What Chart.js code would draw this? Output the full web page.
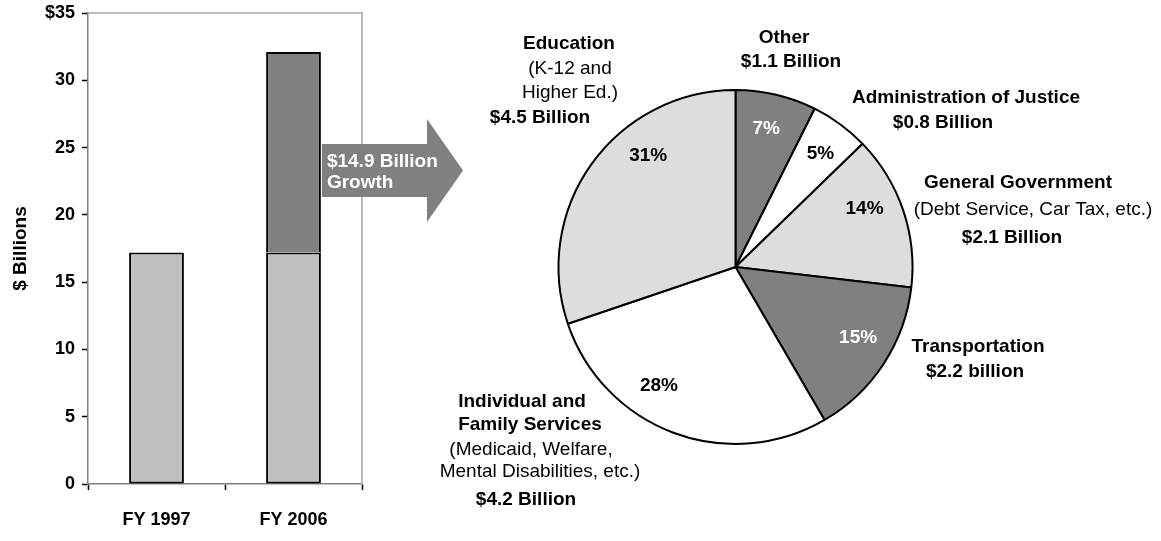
<!DOCTYPE html>
<html>
<head>
<meta charset="utf-8">
<script src="https://cdn.jsdelivr.net/npm/chart.js@4.4.1/dist/chart.umd.min.js"></script>
<style>
  html, body { margin: 0; padding: 0; background: #fff; }
  #wrap { position: relative; width: 1161px; height: 541px; overflow: hidden; }
  canvas { position: absolute; top: 0; }
  #pie { left: 400px; }
  #bar { left: 0; }
</style>
</head>
<body>
<div id="wrap">
  <canvas id="pie" width="761" height="541"></canvas>
  <canvas id="bar" width="480" height="541"></canvas>
</div>
<script>
// bar chart data ($ billions)
const years = ["FY 1997", "FY 2006"];
const baseSpending = [17.2, 17.2];
const growthSpending = [0, 14.9];
const yTickLabels = ["0", "5", "10", "15", "20", "25", "30", "$35"];
const growthText = ["$14.9 Billion", "Growth"];

// pie chart data (growth by area, $ billions)
const areaNames = ["Other", "Administration of Justice", "General Government", "Transportation", "Individual and Family Services", "Education"];
const areaBillions = [1.1, 0.8, 2.1, 2.2, 4.2, 4.5];
const areaPercentLabels = ["7%", "5%", "14%", "15%", "28%", "31%"];
const areaCallouts = [
  [["Other", true], ["$1.1 Billion", true]],
  [["Administration of Justice", true], ["$0.8 Billion", true]],
  [["General Government", true], ["(Debt Service, Car Tax, etc.)", false], ["$2.1 Billion", true]],
  [["Transportation", true], ["$2.2 billion", true]],
  [["Individual and", true], ["Family Services", true], ["(Medicaid, Welfare,", false], ["Mental Disabilities, etc.)", false], ["$4.2 Billion", true]],
  [["Education", true], ["(K-12 and", false], ["Higher Ed.)", false], ["$4.5 Billion", true]]
];

const FONT = "'Liberation Sans', Arial, sans-serif";
const DARK = "#808080";

Chart.defaults.font.family = FONT;
Chart.defaults.color = "#000";

const plotBorder = {
  id: "plotBorder",
  beforeDatasetsDraw(chart) {
    const { ctx, chartArea: a } = chart;
    ctx.save();
    ctx.strokeStyle = "#a6a6a6";
    ctx.lineWidth = 1.5;
    ctx.beginPath();
    ctx.moveTo(a.left, a.top);
    ctx.lineTo(a.right, a.top);
    ctx.lineTo(a.right, a.bottom);
    ctx.stroke();
    ctx.restore();
  }
};

const growthArrow = {
  id: "growthArrow",
  afterDraw(chart) {
    const { ctx } = chart;
    const bar = chart.getDatasetMeta(1).data[1];
    const x0 = bar.x + bar.width / 2 + 1;
    const yMid = 170.5;
    const tipX = 463, headX = 427;
    ctx.save();
    ctx.fillStyle = DARK;
    ctx.beginPath();
    ctx.moveTo(x0, yMid - 26.5);
    ctx.lineTo(headX, yMid - 26.5);
    ctx.lineTo(headX, yMid - 51.5);
    ctx.lineTo(tipX, yMid);
    ctx.lineTo(headX, yMid + 51.5);
    ctx.lineTo(headX, yMid + 26.5);
    ctx.lineTo(x0, yMid + 26.5);
    ctx.closePath();
    ctx.fill();
    ctx.fillStyle = "#fff";
    ctx.font = "bold 19px " + FONT;
    ctx.textBaseline = "middle";
    ctx.fillText(growthText[0], x0 + 5, yMid - 9);
    ctx.fillText(growthText[1], x0 + 5, yMid + 12);
    ctx.restore();
  }
};

new Chart(document.getElementById("bar"), {
  type: "bar",
  data: {
    labels: years,
    datasets: [
      { label: "Base", data: baseSpending, backgroundColor: "#c0c0c0", borderSkipped: false },
      { label: "Growth", data: growthSpending, backgroundColor: DARK, borderSkipped: "start" }
    ]
  },
  options: {
    responsive: false,
    animation: false,
    layout: { padding: { top: 13, right: 118, bottom: 0, left: 0 } },
    datasets: {
      bar: {
        borderColor: "#000",
        borderWidth: 2,
        barPercentage: 0.4,
        categoryPercentage: 1
      }
    },
    plugins: { legend: { display: false }, tooltip: { enabled: false } },
    scales: {
      x: {
        stacked: true,
        grid: { drawOnChartArea: false, tickLength: 6, tickColor: "#000", tickWidth: 1.5 },
        border: { color: DARK, width: 1.5 },
        ticks: { padding: 19, font: { size: 18, weight: "bold" } },
        afterFit(scale) { scale.height = 57; }
      },
      y: {
        stacked: true,
        min: 0,
        max: 35,
        ticks: {
          stepSize: 5,
          padding: 7,
          font: { size: 18, weight: "bold" },
          callback: (v, i) => yTickLabels[i]
        },
        grid: { drawOnChartArea: false, tickLength: 6, tickColor: "#000", tickWidth: 1.5 },
        border: { color: DARK, width: 1.5 },
        title: {
          display: true,
          text: "$ Billions",
          font: { size: 19, weight: "bold" },
          padding: { top: 9, bottom: 0 }
        },
        afterFit(scale) {
          scale.width = 88;
          scale.paddingTop = 0;
          scale.paddingBottom = 0;
        }
      }
    }
  },
  plugins: [plotBorder, growthArrow]
});

// callout centres in page pixels, offset by the pie canvas position
const calloutSpots = [
  [[784, 38], [791, 62]],
  [[966, 98], [943, 123]],
  [[1018, 183], [1033, 210], [1012, 238]],
  [[978, 347], [975, 372]],
  [[522, 402], [530, 425], [531, 450], [540, 472], [526, 500]],
  [[569, 44], [570, 69], [570, 93], [540, 118]]
];
const pieLeft = 400;
const pctAt = [0.47, 0.53, 0.39, 0.44, 0.62, 0.65];

const pieLabels = {
  id: "pieLabels",
  afterDatasetsDraw(chart) {
    const { ctx } = chart;
    const arcs = chart.getDatasetMeta(0).data;
    ctx.save();
    ctx.textAlign = "center";
    ctx.textBaseline = "middle";
    ctx.font = "bold 19px " + FONT;
    arcs.forEach((arc, i) => {
      const a = arc.startAngle + (arc.endAngle - arc.startAngle) * pctAt[i];
      const r = arc.outerRadius * 0.8;
      ctx.fillStyle = chart.data.datasets[0].backgroundColor[i] === DARK ? "#fff" : "#000";
      ctx.fillText(areaPercentLabels[i], arc.x + Math.cos(a) * r, arc.y + Math.sin(a) * r);
    });
    ctx.fillStyle = "#000";
    areaCallouts.forEach((lines, i) => {
      lines.forEach(([text, bold], j) => {
        const [px, py] = calloutSpots[i][j];
        ctx.font = (bold ? "bold " : "") + "19px " + FONT;
        ctx.fillText(text, px - pieLeft, py);
      });
    });
    ctx.restore();
  }
};

new Chart(document.getElementById("pie"), {
  type: "pie",
  data: {
    labels: areaNames,
    datasets: [{
      data: areaBillions,
      backgroundColor: [DARK, "#ffffff", "#dddddd", DARK, "#ffffff", "#dddddd"],
      borderColor: "#000",
      borderWidth: 2,
      hoverOffset: 0,
      offset: 0
    }]
  },
  options: {
    responsive: false,
    animation: false,
    layout: { padding: { left: 157, right: 247, top: 89, bottom: 96 } },
    plugins: { legend: { display: false }, tooltip: { enabled: false } }
  },
  plugins: [pieLabels]
});
</script>
</body>
</html>
